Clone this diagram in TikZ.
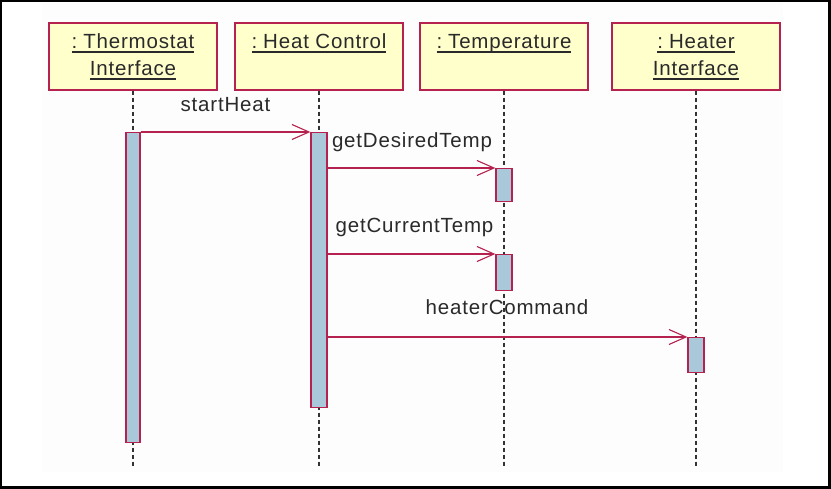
\documentclass[tikz,border=0pt]{standalone}
\usepackage{fontspec}
\setmainfont{Liberation Sans}[LetterSpace=4]
\newsavebox{\myulbox}
\newcommand{\myul}[1]{\sbox{\myulbox}{#1}\rlap{\rule[-3.6pt]{\wd\myulbox}{1.1pt}}\usebox{\myulbox}}
\usetikzlibrary{arrows.meta}
\definecolor{crim}{HTML}{B5224F}
\definecolor{boxyel}{HTML}{FFFFCC}
\definecolor{barblue}{HTML}{A9C8DA}
\definecolor{bgray}{HTML}{FDFDFD}
\definecolor{txt}{HTML}{2A2A2A}
\tikzset{
  objbox/.style={draw=crim, fill=boxyel, line width=1.4pt, minimum width=168pt, minimum height=67pt, inner sep=0pt},
  lbl/.style={text=txt, inner sep=0pt, font=\fontsize{20.5}{24}\selectfont},
  actbar/.style={draw=crim, fill=barblue, line width=1.3pt, inner sep=0pt, minimum width=15pt, anchor=north},
  life/.style={draw=black!80, line width=1.4pt, dash pattern=on 4pt off 3pt},
  msg/.style={draw=crim, line width=1.2pt, -{Straight Barb[length=17pt,width=15pt,line width=1.1pt]}}
}
\begin{document}
\begin{tikzpicture}[x=1pt,y=-1pt]
\useasboundingbox (0,0) rectangle (831,489);
\fill[white] (0,0) rectangle (831,489);
\fill[bgray] (42,3) rectangle (783,472);
\draw[line width=2.2pt] (1.1,1.1) rectangle (829.4,487.4);

% object boxes
\node[objbox] (b1) at (133,56.5) {};
\node[objbox] (b2) at (319,56.5) {};
\node[objbox] (b3) at (504,56.5) {};
\node[objbox] (b4) at (696,56.5) {};

\node[lbl, anchor=base] (b1t1) at (133,49) {\myul{:\kern6pt Thermostat}};
\node[lbl, anchor=base] (b1t2) at (133,76) {\myul{Interface}};
\node[lbl, anchor=base] (b2t1) at (319,49) {\myul{:\kern6pt Heat Control}};
\node[lbl, anchor=base] (b3t1) at (504,49) {\myul{:\kern6pt Temperature}};
\node[lbl, anchor=base] (b4t1) at (696,49) {\myul{:\kern6pt Heater}};
\node[lbl, anchor=base] (b4t2) at (696,76) {\myul{Interface}};

% lifelines
\coordinate (e1) at (133,467);
\coordinate (e2) at (319,467);
\coordinate (e3) at (504,467);
\coordinate (e4) at (696,467);
\draw[life] (b1.south) -- (e1);
\draw[life] (b2.south) -- (e2);
\draw[life] (b3.south) -- (e3);
\draw[life] (b4.south) -- (e4);

% activation bars
\node[actbar, minimum width=14pt, minimum height=310pt] (a1) at (133,132) {};
\node[actbar, minimum width=16pt, minimum height=275pt] (a2) at (319,132) {};
\node[actbar, minimum width=16pt, minimum height=33pt] (a3) at (504,168) {};
\node[actbar, minimum width=16pt, minimum height=36pt] (a4) at (504,254) {};
\node[actbar, minimum width=16pt, minimum height=35pt] (a5) at (696,337) {};

% messages
\draw[msg] (a1.north east) -- (a2.north west);
\draw[msg] (a2.east |- a3.north west) -- (a3.north west);
\draw[msg] (a2.east |- a4.north west) -- (a4.north west);
\draw[msg] (a2.east |- a5.north west) -- (a5.north west);

\node[lbl, anchor=base] (m1) at (225.5,112) {startHeat};
\node[lbl, anchor=base] (m2) at (412,148) {getDesiredTemp};
\node[lbl, anchor=base] (m3) at (414.5,233) {getCurrentTemp};
\node[lbl, anchor=base] (m4) at (507,315) {heaterCommand};
\end{tikzpicture}
\end{document}
